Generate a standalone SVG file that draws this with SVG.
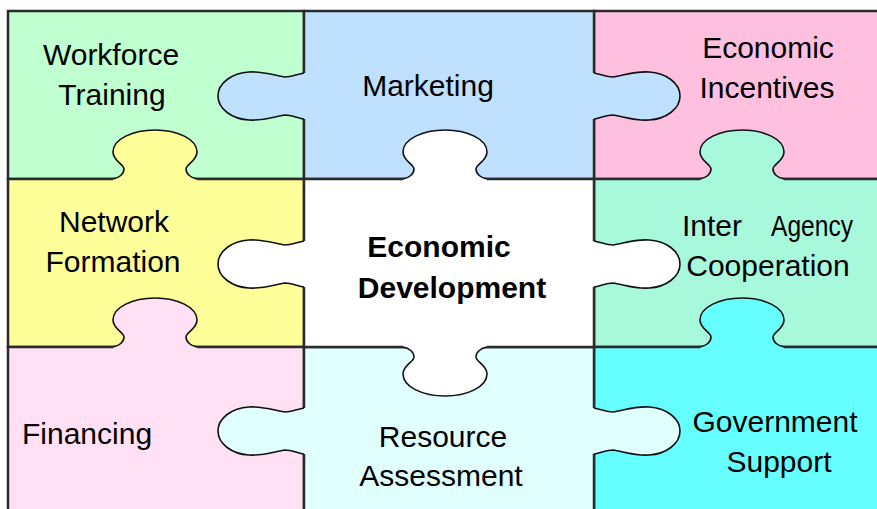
<svg xmlns="http://www.w3.org/2000/svg" width="877" height="509" viewBox="0 0 877 509">
<style>
.cell{stroke:#2a2a2a;stroke-width:2.5}
.tab{stroke:none}
.edge{fill:none;stroke:#111;stroke-width:1.6;stroke-linejoin:round}
text{font-family:"Liberation Sans",Arial,sans-serif;font-size:30px;fill:#000}
.c{text-anchor:middle}
.b{font-weight:bold}
</style>
<rect x="0" y="0" width="877" height="509" fill="#fff"/>
<g id="workforce-training">
<rect class="cell" x="8" y="11" width="296" height="168" fill="#C0FFD0"/>
<text class="c" x="111" y="65">Workforce</text>
<text class="c" x="112" y="105">Training</text>
</g>
<g id="economic-incentives">
<rect class="cell" x="594" y="11" width="290" height="168" fill="#FFC0E0"/>
<text class="c" x="768" y="58">Economic</text>
<text class="c" x="767" y="98">Incentives</text>
</g>
<g id="marketing">
<rect class="cell" x="304" y="11" width="290" height="168" fill="#C0E0FF"/>
<path class="tab" fill="#C0E0FF" d="M304,73 C298,74 291,77 285,77 C276,76 264,71 249,72 C232,73 218,83 218,96 C218,109 232,119 249,120 C264,121 276,116 285,115 C291,115 298,118 304,119 L308,119 L308,73 Z"/>
<path class="edge" d="M304,73 C298,74 291,77 285,77 C276,76 264,71 249,72 C232,73 218,83 218,96 C218,109 232,119 249,120 C264,121 276,116 285,115 C291,115 298,118 304,119"/>
<path class="tab" fill="#C0E0FF" d="M594,73 C600,74 607,77 613,77 C622,76 634,71 649,72 C666,73 680,83 680,96 C680,109 666,119 649,120 C634,121 622,116 613,115 C607,115 600,118 594,119 L590,119 L590,73 Z"/>
<path class="edge" d="M594,73 C600,74 607,77 613,77 C622,76 634,71 649,72 C666,73 680,83 680,96 C680,109 666,119 649,120 C634,121 622,116 613,115 C607,115 600,118 594,119"/>
<text class="c" x="428" y="96">Marketing</text>
</g>
<g id="network-formation">
<rect class="cell" x="8" y="179" width="296" height="168" fill="#FFFF99"/>
<path class="tab" fill="#FFFF99" d="M113,179 C119,178 124,174 124,169 C124,164 113,161 113,152 C113,139 133,130 155,130 C177,130 197,139 197,152 C197,161 186,164 186,169 C186,174 191,178 197,179 L197,183 L113,183 Z"/>
<path class="edge" d="M113,179 C119,178 124,174 124,169 C124,164 113,161 113,152 C113,139 133,130 155,130 C177,130 197,139 197,152 C197,161 186,164 186,169 C186,174 191,178 197,179"/>
<text class="c" x="114" y="232">Network</text>
<text class="c" x="113" y="272">Formation</text>
</g>
<g id="inter-agency-cooperation">
<rect class="cell" x="594" y="179" width="290" height="168" fill="#A8F8DC"/>
<path class="tab" fill="#A8F8DC" d="M700,179 C706,178 711,174 711,169 C711,164 700,161 700,152 C700,139 720,130 742,130 C764,130 784,139 784,152 C784,161 773,164 773,169 C773,174 778,178 784,179 L784,183 L700,183 Z"/>
<path class="edge" d="M700,179 C706,178 711,174 711,169 C711,164 700,161 700,152 C700,139 720,130 742,130 C764,130 784,139 784,152 C784,161 773,164 773,169 C773,174 778,178 784,179"/>
<text x="682" y="236">Inter</text>
<text x="771" y="236" textLength="82" lengthAdjust="spacingAndGlyphs">Agency</text>
<text class="c" x="768" y="276">Cooperation</text>
</g>
<g id="financing">
<rect class="cell" x="8" y="347" width="296" height="170" fill="#FFE0F4"/>
<path class="tab" fill="#FFE0F4" d="M113,347 C119,346 124,342 124,337 C124,332 113,329 113,320 C113,307 133,298 155,298 C177,298 197,307 197,320 C197,329 186,332 186,337 C186,342 191,346 197,347 L197,351 L113,351 Z"/>
<path class="edge" d="M113,347 C119,346 124,342 124,337 C124,332 113,329 113,320 C113,307 133,298 155,298 C177,298 197,307 197,320 C197,329 186,332 186,337 C186,342 191,346 197,347"/>
<text x="22" y="444">Financing</text>
</g>
<g id="government-support">
<rect class="cell" x="594" y="347" width="290" height="170" fill="#66FFFF"/>
<path class="tab" fill="#66FFFF" d="M700,347 C706,346 711,342 711,337 C711,332 700,329 700,320 C700,307 720,298 742,298 C764,298 784,307 784,320 C784,329 773,332 773,337 C773,342 778,346 784,347 L784,351 L700,351 Z"/>
<path class="edge" d="M700,347 C706,346 711,342 711,337 C711,332 700,329 700,320 C700,307 720,298 742,298 C764,298 784,307 784,320 C784,329 773,332 773,337 C773,342 778,346 784,347"/>
<text class="c" x="775" y="432">Government</text>
<text class="c" x="779" y="472">Support</text>
</g>
<g id="resource-assessment">
<rect class="cell" x="304" y="347" width="290" height="170" fill="#E0FFFF"/>
<path class="tab" fill="#E0FFFF" d="M304,408 C298,409 291,412 285,412 C276,411 264,406 249,407 C232,408 218,418 218,431 C218,444 232,454 249,455 C264,456 276,451 285,450 C291,450 298,453 304,454 L308,454 L308,408 Z"/>
<path class="edge" d="M304,408 C298,409 291,412 285,412 C276,411 264,406 249,407 C232,408 218,418 218,431 C218,444 232,454 249,455 C264,456 276,451 285,450 C291,450 298,453 304,454"/>
<path class="tab" fill="#E0FFFF" d="M594,408 C600,409 607,412 613,412 C622,411 634,406 649,407 C666,408 680,418 680,431 C680,444 666,454 649,455 C634,456 622,451 613,450 C607,450 600,453 594,454 L590,454 L590,408 Z"/>
<path class="edge" d="M594,408 C600,409 607,412 613,412 C622,411 634,406 649,407 C666,408 680,418 680,431 C680,444 666,454 649,455 C634,456 622,451 613,450 C607,450 600,453 594,454"/>
<text class="c" x="443" y="447">Resource</text>
<text class="c" x="441" y="486">Assessment</text>
</g>
<g id="economic-development">
<rect class="cell" x="304" y="179" width="290" height="168" fill="#FFFFFF"/>
<path class="tab" fill="#FFFFFF" d="M403,179 C409,178 414,174 414,169 C414,164 403,161 403,152 C403,139 423,130 445,130 C467,130 487,139 487,152 C487,161 476,164 476,169 C476,174 481,178 487,179 L487,183 L403,183 Z"/>
<path class="edge" d="M403,179 C409,178 414,174 414,169 C414,164 403,161 403,152 C403,139 423,130 445,130 C467,130 487,139 487,152 C487,161 476,164 476,169 C476,174 481,178 487,179"/>
<path class="tab" fill="#FFFFFF" d="M304,241 C298,242 291,245 285,245 C276,244 264,239 249,240 C232,241 218,251 218,264 C218,277 232,287 249,288 C264,289 276,284 285,283 C291,283 298,286 304,287 L308,287 L308,241 Z"/>
<path class="edge" d="M304,241 C298,242 291,245 285,245 C276,244 264,239 249,240 C232,241 218,251 218,264 C218,277 232,287 249,288 C264,289 276,284 285,283 C291,283 298,286 304,287"/>
<path class="tab" fill="#FFFFFF" d="M594,241 C600,242 607,245 613,245 C622,244 634,239 649,240 C666,241 680,251 680,264 C680,277 666,287 649,288 C634,289 622,284 613,283 C607,283 600,286 594,287 L590,287 L590,241 Z"/>
<path class="edge" d="M594,241 C600,242 607,245 613,245 C622,244 634,239 649,240 C666,241 680,251 680,264 C680,277 666,287 649,288 C634,289 622,284 613,283 C607,283 600,286 594,287"/>
<path class="tab" fill="#FFFFFF" d="M403,347 C409,348 414,352 414,357 C414,362 403,365 403,374 C403,387 423,396 445,396 C467,396 487,387 487,374 C487,365 476,362 476,357 C476,352 481,348 487,347 L487,343 L403,343 Z"/>
<path class="edge" d="M403,347 C409,348 414,352 414,357 C414,362 403,365 403,374 C403,387 423,396 445,396 C467,396 487,387 487,374 C487,365 476,362 476,357 C476,352 481,348 487,347"/>
<text class="c b" x="439" y="257">Economic</text>
<text class="c b" x="452" y="298">Development</text>
</g>
<g id="connectors"/>
</svg>
